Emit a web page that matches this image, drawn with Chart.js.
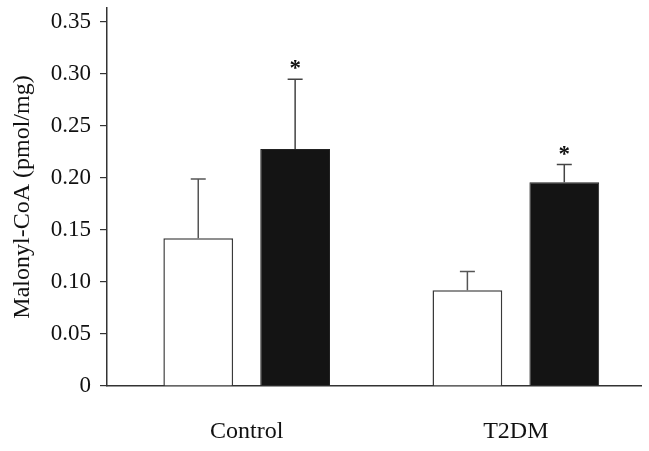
<!DOCTYPE html>
<html>
<head>
<meta charset="utf-8">
<script src="https://cdn.jsdelivr.net/npm/chart.js@4/dist/chart.umd.min.js"></script>
<style>
  html, body { margin: 0; padding: 0; background: #fff; }
  #wrap { width: 649px; height: 451px; position: relative; }
</style>
</head>
<body>
<div id="wrap"><canvas id="c" width="649" height="451"></canvas></div>
<script>
// ---- data ----
const categories = ['Control', 'T2DM'];
const openMeans = [0.142, 0.092];     // white bars
const openErrors = [0.057, 0.018];
const filledMeans = [0.228, 0.196];   // black bars
const filledErrors = [0.067, 0.017];
const filledMarks = ['*', '*'];
const yTicks = [0, 0.05, 0.10, 0.15, 0.20, 0.25, 0.30, 0.35];
const yTitle = 'Malonyl-CoA (pmol/mg)';

const SERIF = '"Liberation Serif", "Times New Roman", Times, serif';

const toPoints = arr => arr.map((v, i) => ({ x: i, y: v }));

const errorBarPlugin = {
  id: 'errorBars',
  afterDatasetsDraw(chart) {
    const ctx = chart.ctx;
    const yScale = chart.scales.y;
    chart.data.datasets.forEach((ds, di) => {
      const meta = chart.getDatasetMeta(di);
      meta.data.forEach((bar, j) => {
        const top = yScale.getPixelForValue(ds.data[j].y + ds.errors[j]);
        ctx.save();
        ctx.strokeStyle = ds.errorColor;
        ctx.lineWidth = 1.5;
        ctx.beginPath();
        ctx.moveTo(bar.x, bar.y);
        ctx.lineTo(bar.x, top);
        ctx.moveTo(bar.x - 7.5, top);
        ctx.lineTo(bar.x + 7.5, top);
        ctx.stroke();
        if (ds.marks && ds.marks[j]) {
          ctx.fillStyle = '#111';
          ctx.font = 'bold 23px ' + SERIF;
          ctx.textAlign = 'center';
          ctx.textBaseline = 'alphabetic';
          ctx.fillText(ds.marks[j], bar.x, top - 4);
        }
        ctx.restore();
      });
    });
  }
};

new Chart(document.getElementById('c'), {
  type: 'bar',
  data: {
    datasets: [
      {
        label: 'Open',
        data: toPoints(openMeans),
        errors: openErrors,
        errorColor: '#555',
        backgroundColor: '#ffffff',
        borderColor: '#3a3a3a',
        borderWidth: 1.5,
        barPercentage: 0.72,
        categoryPercentage: 0.72
      },
      {
        label: 'Filled',
        data: toPoints(filledMeans),
        errors: filledErrors,
        marks: filledMarks,
        errorColor: '#444',
        backgroundColor: '#141414',
        borderColor: '#222',
        borderWidth: 1,
        barPercentage: 0.72,
        categoryPercentage: 0.72
      }
    ]
  },
  options: {
    responsive: false,
    animation: false,
    layout: { padding: { top: 8, right: 8, left: 0, bottom: 0 } },
    plugins: { legend: { display: false }, tooltip: { enabled: false } },
    scales: {
      x: {
        type: 'linear',
        offset: false,
        min: -0.519,
        max: 1.465,
        grid: { display: false },
        border: { display: true, color: '#333', width: 1.5 },
        afterBuildTicks(scale) { scale.ticks = categories.map((c, i) => ({ value: i })); },
        afterFit(scale) { scale.height = 65; scale.paddingLeft = 0; scale.paddingRight = 0; },
        ticks: {
          autoSkip: false,
          maxRotation: 0,
          padding: 23,
          color: '#111',
          font: { family: SERIF, size: 24 },
          callback: v => categories[v]
        }
      },
      y: {
        min: 0,
        max: 0.3635,
        grid: { display: true, drawOnChartArea: false, drawTicks: true, tickLength: 7, color: '#333', lineWidth: 1.2 },
        border: { display: true, color: '#333', width: 1.5 },
        afterBuildTicks(scale) { scale.ticks = yTicks.map(v => ({ value: v })); },
        afterFit(scale) { scale.width = 107; scale.paddingTop = 0; scale.paddingBottom = 0; },
        title: {
          display: true,
          text: yTitle,
          color: '#111',
          font: { family: SERIF, size: 24 },
          padding: { top: 8, bottom: 0 }
        },
        ticks: {
          padding: 9,
          color: '#111',
          font: { family: SERIF, size: 23 },
          callback: v => (v === 0 ? '0' : v.toFixed(2))
        }
      }
    }
  },
  plugins: [errorBarPlugin]
});
</script>
</body>
</html>
